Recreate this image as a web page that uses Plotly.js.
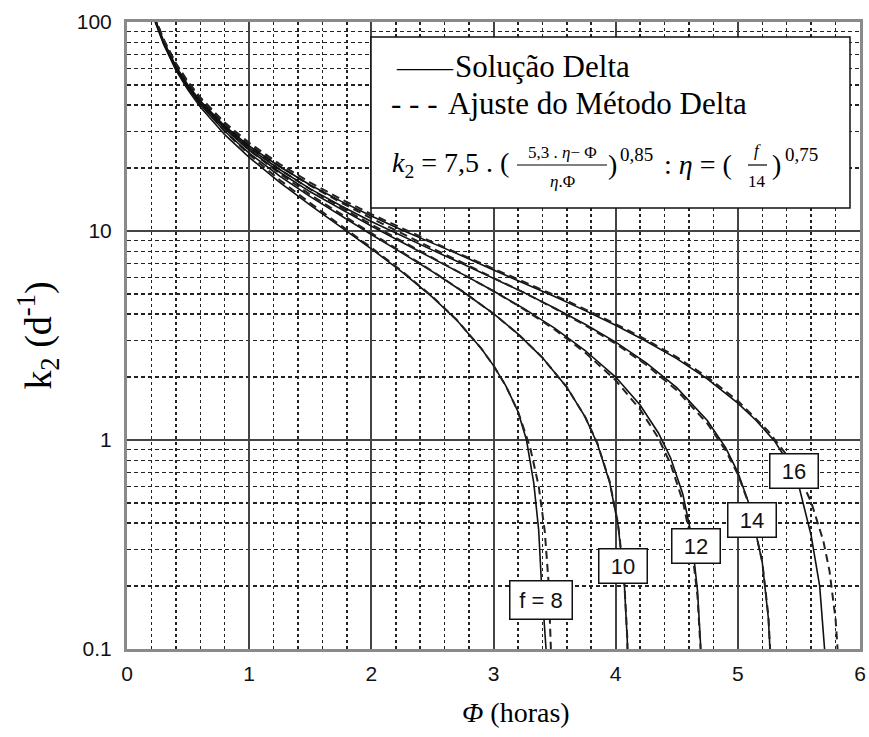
<!DOCTYPE html>
<html>
<head>
<meta charset="utf-8">
<script src="https://cdn.plot.ly/plotly-3.0.1.min.js"></script>
<style>
html,body{margin:0;padding:0;background:#fff;}
#chart{width:869px;height:737px;}
</style>
</head>
<body>
<div id="chart"></div>
<script>
// ---------------- DATA ----------------
const curveNames = ["f = 8", "10", "12", "14", "16"];

const phi8Delta  = [0.22,0.3,0.4,0.5,0.6,0.8,1.0,1.25,1.5,1.75,2.0,2.25,2.5,2.7,2.9,3.0,3.1,3.2,3.27,3.33,3.37,3.39,3.41,3.43,3.44];
const k8Delta    = [104,78.2,58.9,47.2,39.2,28.9,22.5,17.1,13.3,10.45,8.22,6.38,4.83,3.74,2.74,2.27,1.82,1.37,1.0,0.62,0.37,0.22,0.15,0.10,0.07];
const phi8Ajuste = [0.22,0.3,0.4,0.5,0.6,0.8,1.0,1.25,1.5,1.75,2.0,2.25,2.5,2.7,2.9,3.0,3.1,3.2,3.3,3.37,3.42,3.45,3.47,3.48];
const k8Ajuste   = [106.1,79.8,60.8,48.9,40.7,29.98,23.2,17.55,13.59,10.63,8.32,6.43,4.85,3.75,2.74,2.27,1.82,1.37,0.921,0.602,0.364,0.211,0.099,0.034];

const phi10      = [0.22,0.3,0.4,0.5,0.6,0.8,1.0,1.25,1.5,1.75,2.0,2.25,2.5,2.75,3.0,3.2,3.4,3.6,3.75,3.85,3.95,4.02,4.07,4.095,4.11];
const k10Delta   = [105,79.2,59.8,48.2,40.2,30.0,23.6,18.3,14.6,11.8,9.62,7.86,6.39,5.12,4.02,3.22,2.48,1.79,1.29,0.96,0.63,0.39,0.21,0.11,0.045];
const k10Ajuste  = [107.0,80.8,61.8,50.0,41.8,31.1,24.4,18.8,14.92,12.02,9.76,7.93,6.42,5.13,4.02,3.22,2.48,1.79,1.29,0.965,0.635,0.396,0.213,0.114,0.046];

const phi12      = [0.22,0.3,0.4,0.5,0.6,0.8,1.0,1.25,1.5,1.75,2.0,2.25,2.5,2.75,3.0,3.25,3.5,3.75,4.0,4.2,4.35,4.45,4.55,4.62,4.67,4.695,4.71];
const k12Delta   = [105.5,79.8,60.5,48.9,41.0,30.8,24.4,19.1,15.4,12.7,10.55,8.83,7.41,6.20,5.16,4.25,3.43,2.68,2.00,1.47,1.08,0.82,0.55,0.35,0.19,0.105,0.05];
const k12Ajuste  = [107.6,81.5,62.6,50.7,42.6,31.9,25.3,19.7,15.84,12.98,10.75,8.96,7.48,6.23,5.16,4.22,3.38,2.62,1.93,1.40,1.02,0.767,0.509,0.321,0.178,0.100,0.048];

const phi14      = [0.22,0.3,0.4,0.5,0.6,0.8,1.0,1.25,1.5,1.75,2.0,2.25,2.5,2.75,3.0,3.25,3.5,3.75,4.0,4.25,4.5,4.75,4.9,5.0,5.1,5.2,5.25,5.28];
const k14Delta   = [106,80.5,61.0,49.4,41.5,31.4,24.9,19.7,15.9,13.2,11.1,9.45,8.10,6.95,5.95,5.07,4.28,3.58,2.94,2.34,1.78,1.24,0.92,0.70,0.48,0.26,0.14,0.065];
const k14Ajuste  = [108,82.0,63.1,51.3,43.1,32.6,25.9,20.4,16.5,13.7,11.5,9.71,8.26,7.03,5.98,5.07,4.26,3.54,2.89,2.29,1.73,1.20,0.892,0.686,0.478,0.261,0.144,0.066];

const phi16Delta  = [0.22,0.3,0.4,0.5,0.6,0.8,1.0,1.25,1.5,1.75,2.0,2.25,2.5,2.75,3.0,3.25,3.5,3.75,4.0,4.25,4.5,4.75,5.0,5.15,5.3,5.4,5.5,5.6,5.67,5.71,5.73];
const k16Delta    = [106.5,80.8,61.4,49.8,42.0,31.8,25.5,20.3,16.6,13.9,11.8,10.1,8.75,7.58,6.50,5.63,4.86,4.16,3.54,2.97,2.45,1.96,1.50,1.24,0.99,0.80,0.60,0.35,0.20,0.10,0.07];
const phi16Ajuste = [0.22,0.3,0.4,0.5,0.6,0.8,1.0,1.25,1.5,1.75,2.0,2.25,2.5,2.75,3.0,3.25,3.5,3.75,4.0,4.25,4.5,4.75,5.0,5.25,5.4,5.5,5.6,5.7,5.75,5.8,5.83];
const k16Ajuste   = [108.5,82.4,63.5,51.7,43.6,33.0,26.4,20.9,17.05,14.23,12.04,10.29,8.85,7.64,6.61,5.71,4.93,4.22,3.59,3.02,2.49,2.00,1.54,1.10,0.847,0.677,0.505,0.329,0.237,0.139,0.076];

const xTickVals = [0,1,2,3,4,5,6];
const legendTexts = ["Solução Delta", "Ajuste do Método Delta"];

// ---------------- TRACES ----------------
const solidLine  = {color:'#111', width:1.6};
const dashedLine = {color:'#222', width:2.0, dash:'8px,5px'};
const series = [
  [phi8Delta, k8Delta, phi8Ajuste, k8Ajuste],
  [phi10, k10Delta, phi10, k10Ajuste],
  [phi12, k12Delta, phi12, k12Ajuste],
  [phi14, k14Delta, phi14, k14Ajuste],
  [phi16Delta, k16Delta, phi16Ajuste, k16Ajuste]
];
const traces = [];
series.forEach((s, i) => {
  traces.push({x:s[0], y:s[1], type:'scatter', mode:'lines', line:solidLine,
               name: legendTexts[0] + ' ' + curveNames[i], showlegend:false, hoverinfo:'skip'});
  traces.push({x:s[2], y:s[3], type:'scatter', mode:'lines', line:dashedLine,
               name: legendTexts[1] + ' ' + curveNames[i], showlegend:false, hoverinfo:'skip'});
});

// ---------------- LAYOUT HELPERS ----------------
const L = 127, R = 860, T = 22, B = 649;
const W = R - L, H = B - T;
const PX = x => (x - L) / W;
const PY = y => (B - y) / H;
const serif = '"Liberation Serif", "Times New Roman", serif';
const sans  = '"Liberation Sans", Arial, sans-serif';

function ann(text, x, y, size, extra) {
  return Object.assign({
    text: text, x: PX(x), y: PY(y), xref:'paper', yref:'paper',
    xanchor:'left', yanchor:'middle', showarrow:false,
    font:{family:serif, size:size, color:'#000'}
  }, extra || {});
}

const annotations = [
  // legend
  ann('——', 394, 66, 28),
  ann(legendTexts[0], 453, 66, 31),
  ann('- - -', 389, 103, 31),
  ann(legendTexts[1], 446, 103, 31),
  // formula
  ann('<i>k</i><sub>2</sub> = 7,5 . (', 390, 164, 28),
  ann('5,3 . <i>η</i>− Φ', 562, 152, 17, {xanchor:'center'}),
  ann('<i>η</i>.Φ', 562, 181, 17, {xanchor:'center'}),
  ann(')', 606, 164, 28),
  ann('0,85', 618, 154, 19),
  ann(': <i>η</i> = (', 662, 164, 28),
  ann('<i>f</i>', 757, 151, 17, {xanchor:'center'}),
  ann('14', 757, 181, 17, {xanchor:'center'}),
  ann(')', 770, 164, 28),
  ann('0,75', 783, 154, 19),
  // x-axis title placed like the reference
  ann('<i>Φ</i> (horas)', 516, 712, 28, {xanchor:'center'})
];

// curve labels (boxes)
const labelBoxes = [
  {cx:541, cy:600, w:57, h:33},
  {cx:623, cy:566, w:43, h:29},
  {cx:696, cy:546, w:43, h:29},
  {cx:752, cy:520, w:43, h:29},
  {cx:794, cy:471, w:43, h:29}
];
curveNames.forEach((n, i) => {
  const b = labelBoxes[i];
  annotations.push({
    text:n, x:PX(b.cx), y:PY(b.cy), xref:'paper', yref:'paper',
    xanchor:'center', yanchor:'middle', showarrow:false,
    font:{family:sans, size:22, color:'#111'},
    bgcolor:'#fff', bordercolor:'#111', borderwidth:1.5, borderpad:2,
    width:b.w, height:b.h
  });
});

const shapes = [
  {type:'rect', xref:'paper', yref:'paper', x0:PX(371), x1:PX(850), y0:PY(208), y1:PY(37),
   fillcolor:'#fff', line:{color:'#111', width:1.5}, layer:'above'},
  {type:'line', xref:'paper', yref:'paper', x0:PX(517), x1:PX(607), y0:PY(165), y1:PY(165),
   line:{color:'#000', width:1.2}, layer:'above'},
  {type:'line', xref:'paper', yref:'paper', x0:PX(748), x1:PX(767), y0:PY(165), y1:PY(165),
   line:{color:'#000', width:1.2}, layer:'above'}
];

const layout = {
  width:869, height:737,
  margin:{l:L, r:869-R, t:T, b:737-B, pad:0},
  paper_bgcolor:'#fff', plot_bgcolor:'#fff',
  showlegend:false,
  xaxis:{
    range:[0,6], tickmode:'array', tickvals:xTickVals,
    showgrid:true, gridcolor:'#444', gridwidth:2,
    minor:{dtick:0.2, tick0:0, showgrid:true, gridcolor:'#222', gridwidth:1.5, griddash:'dot'},
    zeroline:false, showline:true, mirror:true, linecolor:'#8a8a8a', linewidth:3,
    ticks:'', ticklabelstandoff:4,
    tickfont:{family:sans, size:21, color:'#111'}
  },
  yaxis:{
    type:'log', range:[-1,2], dtick:1, tick0:0,
    showgrid:true, gridcolor:'#444', gridwidth:2,
    minor:{dtick:'D1', showgrid:true, gridcolor:'#222', gridwidth:1.5, griddash:'4px,3px'},
    zeroline:false, showline:true, mirror:true, linecolor:'#8a8a8a', linewidth:3,
    ticks:'', ticklabelstandoff:8,
    tickfont:{family:sans, size:21, color:'#111'},
    title:{text:'k<sub>2</sub> (d<sup>-1</sup>)', font:{family:serif, size:38, color:'#000'}, standoff:14}
  },
  annotations:annotations,
  shapes:shapes
};

Plotly.newPlot('chart', traces, layout, {staticPlot:true, displayModeBar:false});
</script>
</body>
</html>
